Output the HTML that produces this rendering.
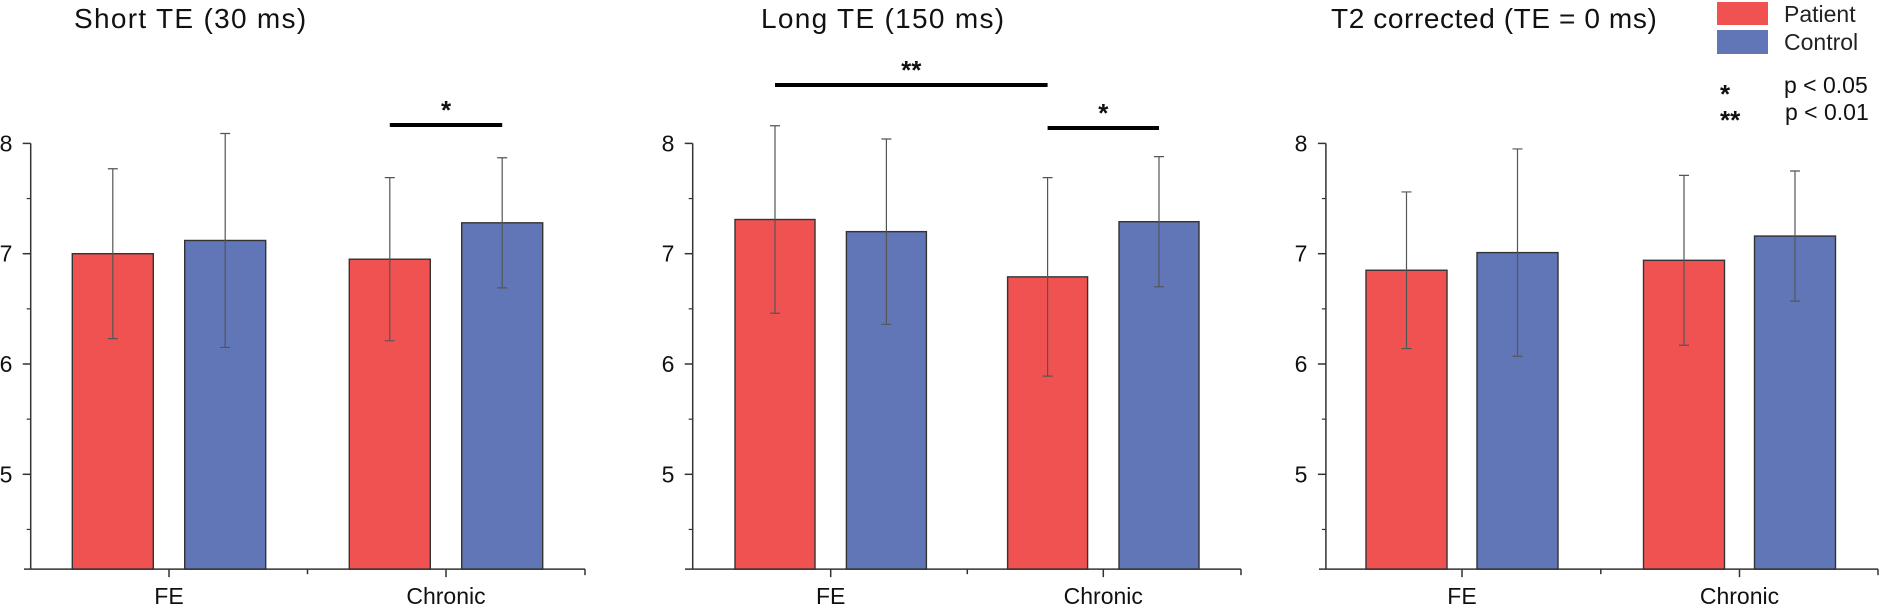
<!DOCTYPE html>
<html><head><meta charset="utf-8">
<style>
html,body{margin:0;padding:0;background:#fff;}
svg{display:block;font-family:"Liberation Sans",Arial,sans-serif;}
</style></head>
<body>
<svg id="chart" width="1880" height="614" viewBox="0 0 1880 614" xmlns="http://www.w3.org/2000/svg">
  <text x="74" y="28" font-size="28" letter-spacing="1.3" fill="#111">Short TE (30 ms)</text>
  <text x="761" y="28" font-size="28" letter-spacing="1.3" fill="#111">Long TE (150 ms)</text>
  <text x="1331" y="28" font-size="28" letter-spacing="0.6" fill="#111">T2 corrected (TE = 0 ms)</text>
  <g>
    <rect x="1717" y="2" width="51" height="23" fill="#f05252"/>
    <text x="1784" y="22" font-size="23" fill="#222">Patient</text>
    <rect x="1717" y="30" width="51" height="24" fill="#6176b6"/>
    <text x="1784" y="50" font-size="23" fill="#222">Control</text>
    <text x="1720" y="103" font-size="26" font-weight="bold" fill="#111">*</text>
    <text x="1784" y="93" font-size="23" fill="#111">p &lt; 0.05</text>
    <text x="1720" y="129" font-size="26" font-weight="bold" fill="#111">**</text>
    <text x="1785" y="120" font-size="23" fill="#111">p &lt; 0.01</text>
  </g>
</svg>
<script>
const categories = ["FE", "Chronic"];
const yTicks = [5, 6, 7, 8];
const shortPatient = [7.00, 6.95];
const shortPatientErr = [0.77, 0.74];
const shortControl = [7.12, 7.28];
const shortControlErr = [0.97, 0.59];
const longPatient = [7.31, 6.79];
const longPatientErr = [0.85, 0.90];
const longControl = [7.20, 7.29];
const longControlErr = [0.84, 0.59];
const t2Patient = [6.85, 6.94];
const t2PatientErr = [0.71, 0.77];
const t2Control = [7.01, 7.16];
const t2ControlErr = [0.94, 0.59];

const svg = document.getElementById('chart');
const NS = 'http://www.w3.org/2000/svg';
function mk(tag, attrs, parent) {
  const e = document.createElementNS(NS, tag);
  for (const k in attrs) e.setAttribute(k, attrs[k]);
  (parent || svg).appendChild(e);
  return e;
}
const yMin = 4.14, yTop = 8;
function yPos(v) { return 253.7 - (v - 7) * 110.3; }
const baseY = yPos(yMin);

const panels = [
  {key:'short', axisX:30.7, xStart:24, xEnd:585, centers:[169,446], mids:[307.5], off:56.2, bw:81, p:shortPatient, pe:shortPatientErr, c:shortControl, ce:shortControlErr, labelX:6},
  {key:'long', axisX:692.7, xStart:685, xEnd:1241, centers:[830.7,1103.3], mids:[967.3], off:55.7, bw:80, p:longPatient, pe:longPatientErr, c:longControl, ce:longControlErr, labelX:668},
  {key:'t2', axisX:1325.9, xStart:1319, xEnd:1878, centers:[1462,1739.5], mids:[1600.8], off:55.5, bw:81, p:t2Patient, pe:t2PatientErr, c:t2Control, ce:t2ControlErr, labelX:1301}
];

panels.forEach(pn => {
  const g = mk('g', {});
  
  
  const series = [
    {vals: pn.p, errs: pn.pe, fill: '#f05252', name: 'patient', dx: -pn.off},
    {vals: pn.c, errs: pn.ce, fill: '#6176b6', name: 'control', dx: pn.off}
  ];
  series.forEach(s => {
    s.vals.forEach((v, i) => {
      const cx = pn.centers[i] + s.dx;
      const r = mk('rect', {x: cx - pn.bw/2, y: yPos(v), width: pn.bw, height: baseY - yPos(v), fill: s.fill, stroke: '#333', 'stroke-width': 1.4}, g);
      
      
      const hi = yPos(v + s.errs[i]), lo = yPos(v - s.errs[i]);
      const eb = mk('path', {d: `M${cx},${hi}V${lo}M${cx-5},${hi}H${cx+5}M${cx-5},${lo}H${cx+5}`, stroke: '#555', 'stroke-width': 1.2, fill: 'none'}, g);
      
      
    });
  });
  const ya = mk('line', {x1: pn.axisX, y1: yPos(yTop), x2: pn.axisX, y2: baseY, stroke: '#333', 'stroke-width': 1.5}, g);
  
  
  yTicks.forEach(t => {
    mk('line', {x1: pn.axisX - 8, y1: yPos(t), x2: pn.axisX, y2: yPos(t), stroke: '#333', 'stroke-width': 1.5}, g);
    mk('line', {x1: pn.axisX - 4, y1: yPos(t - 0.5), x2: pn.axisX, y2: yPos(t - 0.5), stroke: '#333', 'stroke-width': 1.2}, g);
    const tl = mk('text', {x: pn.labelX, y: yPos(t) + 8, 'font-size': 23, fill: '#111', 'text-anchor': 'middle'}, g);
    tl.textContent = t;
    
    
  });
  const xa = mk('line', {x1: pn.xStart, y1: baseY, x2: pn.xEnd, y2: baseY, stroke: '#333', 'stroke-width': 1.5}, g);
  
  
  mk('line', {x1: pn.xEnd, y1: baseY, x2: pn.xEnd, y2: baseY + 6, stroke: '#333', 'stroke-width': 1.5}, g);
  pn.mids.forEach(m => mk('line', {x1: m, y1: baseY, x2: m, y2: baseY + 5, stroke: '#333', 'stroke-width': 1.5}, g));
  categories.forEach((c, i) => {
    mk('line', {x1: pn.centers[i], y1: baseY, x2: pn.centers[i], y2: baseY + 8, stroke: '#333', 'stroke-width': 1.5}, g);
    const xl = mk('text', {x: pn.centers[i], y: baseY + 35, 'font-size': 23, fill: '#111', 'text-anchor': 'middle'}, g);
    xl.textContent = c;
    
    
  });
});

function sig(x1, x2, y, label, name) {
  const l = mk('line', {x1: x1, y1: y, x2: x2, y2: y, stroke: '#000', 'stroke-width': 4});
  
  
  const t = mk('text', {x: (x1 + x2) / 2, y: y - 6, 'font-size': 26, 'font-weight': 'bold', fill: '#111', 'text-anchor': 'middle'});
  t.textContent = label;
  
  
}
sig(446 - 56.2, 446 + 56.2, 125, '*', 'sig-short-chronic');
sig(830.7 - 55.7, 1103.3 - 55.7, 85, '**', 'sig-long-patient');
sig(1103.3 - 55.7, 1103.3 + 55.7, 128, '*', 'sig-long-chronic');
</script>
</body></html>
